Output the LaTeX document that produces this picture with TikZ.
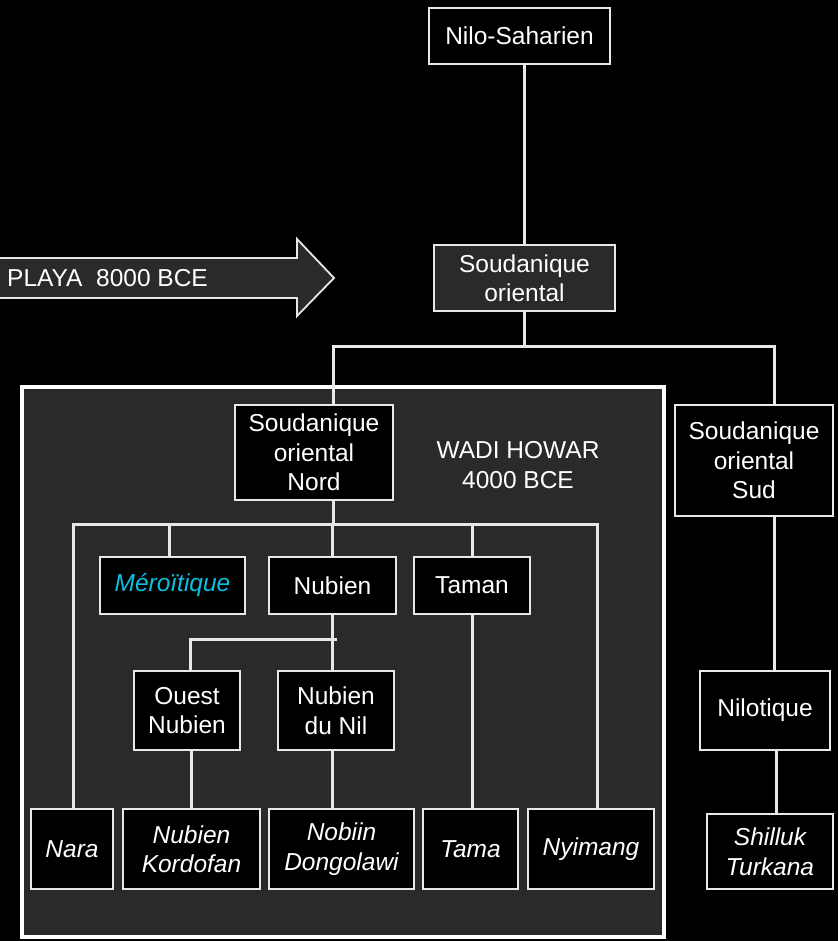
\documentclass[tikz,border=0pt]{standalone}
\usepackage{fontspec}
\setmainfont{Liberation Sans}
\definecolor{panel}{RGB}{42,42,42}
\definecolor{edge}{RGB}{232,232,232}
\definecolor{mcyan}{RGB}{12,192,224}
\begin{document}
\begin{tikzpicture}[x=1pt,y=-1pt,
  every node/.style={text=white,font=\fontsize{24.5}{29.5}\selectfont,align=center,inner sep=0pt},
  box/.style={draw=edge,line width=1.8pt,fill=black,rectangle},
  gbox/.style={box,fill=panel},
  lang/.style={box,font=\fontsize{24.5}{29.5}\selectfont\itshape},
  conn/.style={draw=edge,line width=3pt}]
\useasboundingbox (0,0) rectangle (838,941);
\fill[black] (0,0) rectangle (838,941);
% big panel
\draw[draw=white,line width=4.5pt,fill=panel] (22,387) rectangle (664,937);
% arrow
\draw[draw=edge,line width=1.8pt,fill=panel] (-10,258) -- (297,258) -- (297,239) -- (334,278) -- (297,316) -- (297,298) -- (-10,298) -- cycle;
\node[anchor=west] (playa) at (7,278) {PLAYA\ \ 8000 BCE};
% nodes
\node[box,minimum width=181,minimum height=56] (nilo) at (519.5,36) {Nilo-Saharien};
\node[gbox,minimum width=181,minimum height=66] (so) at (524.5,278) {Soudanique\\oriental};
\node[box,minimum width=158,minimum height=95] (son) at (314,452.5) {Soudanique\\oriental\\Nord};
\node[box,minimum width=158,minimum height=111] (sos) at (754,460.5) {Soudanique\\oriental\\Sud};
\node (wadi) at (518,465) {WADI HOWAR\\4000 BCE};
\node[box,minimum width=145,minimum height=57,font=\fontsize{24.5}{29.5}\selectfont\itshape,text=mcyan] (mero) at (172.5,585.5) {Méroïtique};
\node[box,minimum width=127,minimum height=57] (nub) at (332.5,585.5) {Nubien};
\node[box,minimum width=116,minimum height=57] (taman) at (472,585.5) {Taman};
\node[box,minimum width=106,minimum height=79] (ouest) at (187,710.5) {Ouest\\Nubien};
\node[box,minimum width=116,minimum height=79] (nubnil) at (336,710.5) {Nubien\\du Nil};
\node[box,minimum width=130,minimum height=79] (nilot) at (765,710.5) {Nilotique};
\node[lang,minimum width=82,minimum height=80] (nara) at (72,849) {Nara};
\node[lang,minimum width=137,minimum height=80] (kord) at (191.5,849) {Nubien\\Kordofan};
\node[lang,minimum width=145,minimum height=80] (dong) at (341.5,849) {Nobiin\\Dongolawi};
\node[lang,minimum width=95,minimum height=80] (tama) at (470.5,849) {Tama};
\node[lang,minimum width=126,minimum height=80] (nyim) at (591,849) {Nyimang};
\node[lang,minimum width=126,minimum height=75] (shil) at (770,851.5) {Shilluk\\Turkana};
% junction coordinates
\coordinate (b1L) at (333,346);
\coordinate (b1R) at (774,346);
\coordinate (b2L) at (73,524);
\coordinate (b2R) at (597,524);
\coordinate (b3L) at (190,639);
\coordinate (b3R) at (337,639);
\coordinate (mx) at (169,524);
\coordinate (nx) at (776,780);
% connectors
\path[conn] (so.north) -- (so.north |- nilo.south);
\path[conn] (so.south) -- (so.south |- b1L);
\path[conn] (b1L |- son.north) -- (b1L) -- (b1R) -- (b1R |- sos.north);
\path[conn] (b1L |- son.south) -- (b1L |- b2L);
\path[conn] (b2L |- nara.north) -- (b2L) -- (b2R) -- (b2R |- nyim.north);
\path[conn] (mx |- mero.north) -- (mx);
\path[conn] (nub.north) -- (nub.north |- b2L);
\path[conn] (taman.north) -- (taman.north |- b2L);
\path[conn] (nub.south) -- (nub.south |- nubnil.north);
\path[conn] (b3L |- ouest.north) -- (b3L) -- (b3R);
\path[conn] (kord.north) -- (kord.north |- ouest.south);
\path[conn] (nub.south |- nubnil.south) -- (nub.south |- dong.north);
\path[conn] (taman.south) -- (taman.south |- tama.north);
\path[conn] (b1R |- sos.south) -- (b1R |- nilot.north);
\path[conn] (nx |- nilot.south) -- (nx |- shil.north);
\end{tikzpicture}
\end{document}
